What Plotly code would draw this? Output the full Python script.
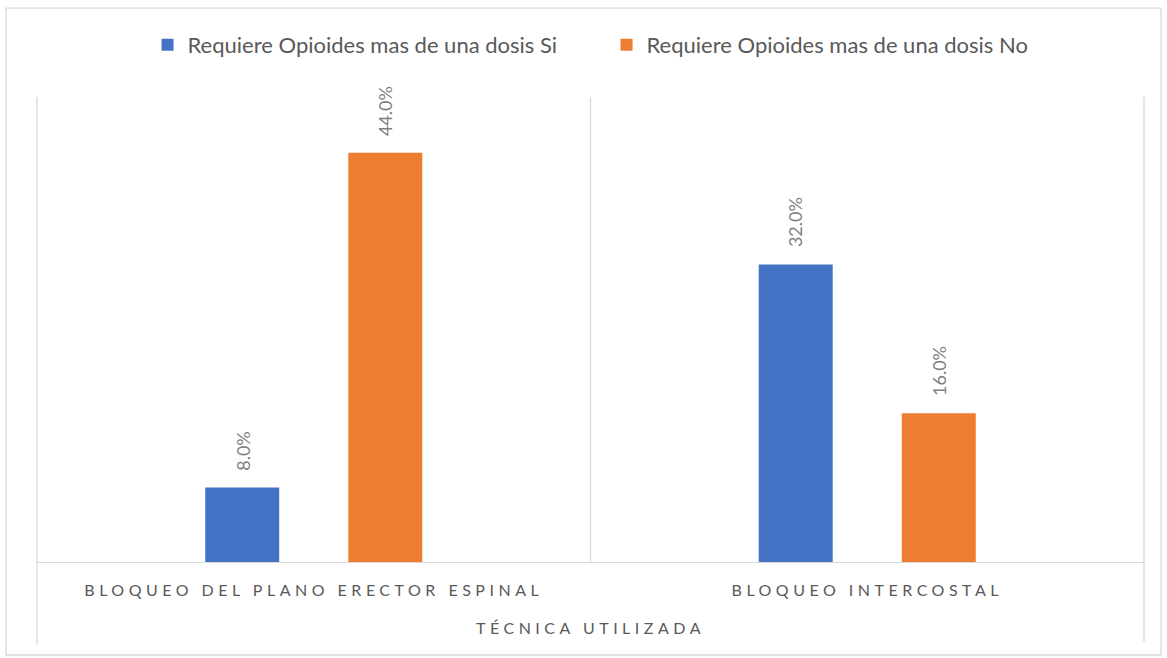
import plotly.graph_objects as go

categories = ["BLOQUEO DEL PLANO ERECTOR ESPINAL", "BLOQUEO INTERCOSTAL"]
series_names = ["Requiere Opioides mas de una dosis Si", "Requiere Opioides mas de una dosis No"]
values_si = [8.0, 32.0]
values_no = [44.0, 16.0]
colors = ["#4472C4", "#ED7D31"]

FONT = "Lato, 'Open Sans', sans-serif"
W, H = 1167, 658
ML, MR, MT, MB = 37, 23, 97, 96
BARGAP = 0.483
BARGROUPGAP = 0.483

fig = go.Figure()
for name, vals, col in zip(series_names, [values_si, values_no], colors):
    fig.add_trace(go.Bar(
        x=categories, y=vals, name=name, marker=dict(color=col, line=dict(width=0)),
    ))

# data labels as rotated annotations above each bar
band_px = (W - ML - MR) / len(categories)
group_px = band_px * (1 - BARGAP)
slot_px = group_px / 2
annotations = []
for i, vals in enumerate([values_si, values_no]):
    shift = (i - 0.5) * slot_px
    for c, v in zip(categories, vals):
        annotations.append(dict(
            x=c, y=v, xref="x", yref="y", text=f"{v:.1f}%", showarrow=False,
            textangle=-90, yanchor="bottom", xanchor="center", xshift=shift, yshift=15,
            font=dict(family=FONT, size=18, color="#7f7f7f"),
        ))

grid = "#d9d9d9"
fig.update_layout(
    width=W, height=H,
    paper_bgcolor="white", plot_bgcolor="white",
    margin=dict(l=ML, r=MR, t=MT, b=MB),
    barmode="group", bargap=BARGAP, bargroupgap=BARGROUPGAP,
    font=dict(family=FONT, color="#595959"),
    legend=dict(orientation="h", x=0.5145, xanchor="center", y=1.112, yanchor="middle",
                font=dict(family=FONT, size=22, color="#595959"), itemwidth=30,
                entrywidth=414, entrywidthmode="pixels",
                tracegroupgap=0, traceorder="normal"),
    xaxis=dict(showgrid=False, showline=True, linecolor=grid, linewidth=1.3,
               ticks="", ticklabelstandoff=14,
               tickfont=dict(family=FONT, size=16, color="#595959"),
               title=dict(text="TÉCNICA UTILIZADA", standoff=24,
                          font=dict(family=FONT, size=16, color="#595959")),
               range=[-0.5, 1.5]),
    yaxis=dict(range=[0, 50], showgrid=False, showticklabels=False, zeroline=False,
               showline=False, ticks=""),
    annotations=annotations,
    shapes=[
        dict(type="line", xref="paper", yref="paper", x0=0, x1=0, y0=-0.178, y1=1,
             line=dict(color=grid, width=1.3)),
        dict(type="line", xref="paper", yref="paper", x0=1, x1=1, y0=-0.172, y1=1,
             line=dict(color=grid, width=1.3)),
        dict(type="line", xref="paper", yref="paper", x0=0.5, x1=0.5, y0=0, y1=1,
             line=dict(color=grid, width=1.3)),
        dict(type="rect", xref="paper", yref="paper", x0=-0.028, x1=1.0154, y0=-0.2, y1=1.191,
             line=dict(color=grid, width=1.3), fillcolor="rgba(0,0,0,0)", layer="below"),
    ],
)

post = """
document.body.style.margin='0';
function sp(){
  document.querySelectorAll('.xtick text, .g-xtitle text').forEach(function(t){t.style.letterSpacing='4.5px';});
}
sp();
var gd = document.getElementsByClassName('plotly-graph-div')[0];
if (gd && gd.on) { gd.on('plotly_afterplot', sp); }
"""
fig.write_html("out.html", post_script=post, config={"displayModeBar": False})
